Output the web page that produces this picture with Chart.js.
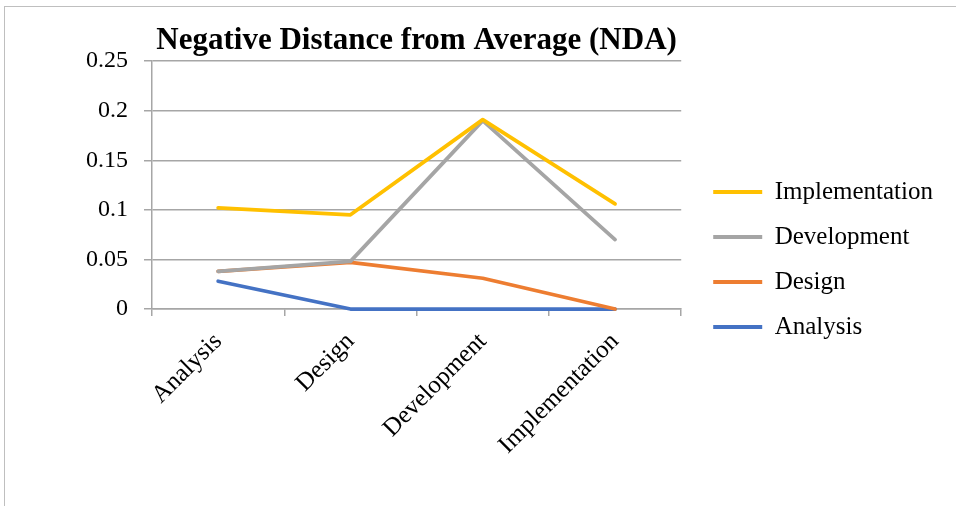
<!DOCTYPE html>
<html>
<head>
<meta charset="utf-8">
<script src="https://cdn.jsdelivr.net/npm/chart.js@4"></script>
<style>
  body { margin: 0; background: #fff; }
  #wrap { position: relative; width: 956px; height: 506px; overflow: hidden; }
  #frame { position: absolute; left: 4px; top: 6px; width: 980px; height: 520px;
           border-left: 1px solid #bfbfbf; border-top: 1px solid #bfbfbf; }
  #nda { position: absolute; left: 0; top: 0; }
</style>
</head>
<body>
<div id="wrap">
  <div id="frame"></div>
  <canvas id="nda" width="956" height="506"></canvas>
</div>
<script>
const categories = ['Analysis', 'Design', 'Development', 'Implementation'];
const seriesNames = ['Implementation', 'Development', 'Design', 'Analysis'];
const implementationValues = [0.102, 0.095, 0.191, 0.106];
const developmentValues = [0.038, 0.048, 0.190, 0.070];
const designValues = [0.038, 0.047, 0.031, 0];
const analysisValues = [0.028, 0, 0, 0];
const yTickLabels = ['0', '0.05', '0.1', '0.15', '0.2', '0.25'];

const colors = ['#FFC000', '#A5A5A5', '#ED7D31', '#4472C4'];
const serif = "'Liberation Serif', 'Times New Roman', serif";
const gridColor = '#a6a6a6';

const seriesValues = [implementationValues, developmentValues, designValues, analysisValues];

// datasets listed legend-first; index 0 is drawn on top
const datasets = seriesNames.map((name, i) => ({
    label: name,
    data: seriesValues[i],
    borderColor: colors[i],
    backgroundColor: colors[i],
    borderWidth: 3.75,
    pointRadius: 0,
    pointHoverRadius: 0,
    tension: 0,
    borderJoinStyle: 'round',
    borderCapStyle: 'round',
    clip: false,
    fill: false
}));

// the layout caps side boxes at a fraction of the width; let the legend take what it needs
const wideLegend = {
    id: 'wideLegend',
    beforeLayout(chart) {
        const lg = chart.legend;
        if (!lg || lg._wide) return;
        const fit = lg.fit;
        lg.fit = function () {
            this.maxWidth = Math.max(this.maxWidth, 320);
            fit.call(this);
        };
        lg._wide = true;
    }
};

new Chart(document.getElementById('nda'), {
    type: 'line',
    data: { labels: categories, datasets: datasets },
    plugins: [wideLegend],
    options: {
        responsive: false,
        animation: false,
        events: [],
        layout: { padding: { left: 0, top: 13, bottom: 0, right: 13 } },
        plugins: {
            title: {
                display: true,
                text: 'Negative Distance from Average (NDA)',
                fullSize: false,
                color: '#000',
                font: { family: serif, size: 31, weight: 'bold', lineHeight: 1.1 },
                padding: { top: 11, bottom: 3 }
            },
            legend: {
                position: 'right',
                align: 'center',
                labels: {
                    color: '#000',
                    font: { family: serif, size: 25 },
                    boxWidth: 49,
                    boxHeight: 4,
                    padding: 20,
                    generateLabels(chart) {
                        return Chart.defaults.plugins.legend.labels.generateLabels(chart)
                            .map(item => Object.assign(item, { lineWidth: 0 }));
                    }
                }
            },
            tooltip: { enabled: false }
        },
        scales: {
            x: {
                offset: true,
                grid: {
                    offset: true,
                    drawOnChartArea: false,
                    drawTicks: true,
                    tickLength: 7,
                    color: gridColor,
                    lineWidth: 1.5
                },
                border: { display: true, color: gridColor, width: 1.5 },
                ticks: {
                    color: '#000',
                    font: { family: serif, size: 25 },
                    minRotation: 45,
                    maxRotation: 45,
                    autoSkip: false,
                    padding: 11
                },
                afterFit(scale) { scale.height = 197; }
            },
            y: {
                min: 0,
                max: 0.25,
                grid: {
                    color: gridColor,
                    lineWidth: 1.5,
                    drawTicks: true,
                    tickLength: 8
                },
                border: { display: true, color: gridColor, width: 1.5 },
                ticks: {
                    stepSize: 0.05,
                    color: '#000',
                    font: { family: serif, size: 24 },
                    padding: 16,
                    callback: (v, i) => yTickLabels[i]
                },
                afterFit(scale) { scale.width = 152; }
            },
            gap: {
                type: 'linear',
                position: 'right',
                display: true,
                grid: { display: false },
                border: { display: false },
                ticks: { display: false },
                afterFit(scale) { scale.width = 12; }
            }
        }
    }
});
</script>
</body>
</html>
